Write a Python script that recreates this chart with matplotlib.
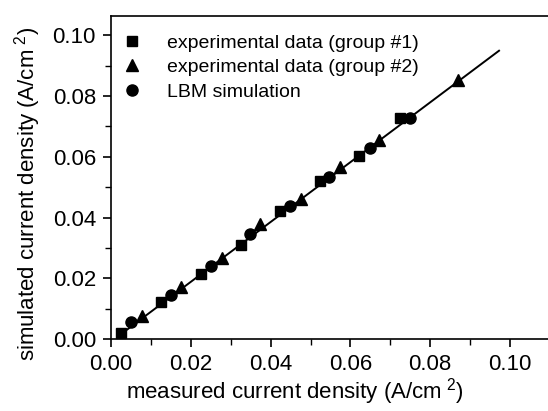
import matplotlib
matplotlib.use("Agg")
import matplotlib.pyplot as plt
from matplotlib.ticker import MultipleLocator, FormatStrFormatter

plt.rcParams["font.family"] = ["Liberation Sans", "DejaVu Sans"]
plt.rcParams["mathtext.fontset"] = "custom"
plt.rcParams["mathtext.rm"] = "Liberation Sans"

# group #1 (squares)
g1_x = [0.0025, 0.0124, 0.0225, 0.0325, 0.0423, 0.0523, 0.0622, 0.0724]
g1_y = [0.0020, 0.0121, 0.0215, 0.0311, 0.0422, 0.0522, 0.0604, 0.0728]
# group #2 (triangles)
g2_x = [0.0076, 0.0176, 0.0277, 0.0374, 0.0475, 0.0573, 0.0673, 0.0870]
g2_y = [0.0077, 0.0171, 0.0268, 0.0379, 0.0461, 0.0568, 0.0657, 0.0853]
# LBM simulation (circles)
lbm_x = [0.0049, 0.0149, 0.0250, 0.0349, 0.0448, 0.0546, 0.0648, 0.0749]
lbm_y = [0.0055, 0.0146, 0.0241, 0.0345, 0.0438, 0.0535, 0.0629, 0.0728]

# fit line
fit_x = [0.0025, 0.0973]
fit_slope = 0.984
fit_icpt = -0.0008

fig = plt.figure(figsize=(5.48, 4.11), dpi=100)
ax = fig.add_axes([0.203, 0.175, 0.80, 0.787])

ax.plot(fit_x, [fit_slope * v + fit_icpt for v in fit_x], color="black", lw=1.4, zorder=1)
ax.plot(g1_x, g1_y, "s", color="black", ms=7, label="experimental data (group #1)", zorder=2)
ax.plot(g2_x, g2_y, "^", color="black", ms=9, label="experimental data (group #2)", zorder=2)
ax.plot(lbm_x, lbm_y, "o", color="black", ms=8, label="LBM simulation", zorder=2)

ax.set_xlim(0, 0.11)
ax.set_ylim(0, 0.1065)
ax.xaxis.set_major_locator(MultipleLocator(0.02))
ax.xaxis.set_minor_locator(MultipleLocator(0.01))
ax.yaxis.set_major_locator(MultipleLocator(0.02))
ax.yaxis.set_minor_locator(MultipleLocator(0.01))
ax.xaxis.set_major_formatter(FormatStrFormatter("%.2f"))
ax.yaxis.set_major_formatter(FormatStrFormatter("%.2f"))

for s in ax.spines.values():
    s.set_linewidth(1.2)
ax.spines["right"].set_visible(False)
ax.tick_params(which="major", direction="out", length=6, width=1.2, labelsize=16, pad=5)
ax.tick_params(which="minor", direction="out", length=4, width=1.0)
ax.tick_params(top=False, right=False, which="both")

ax.set_xlabel("measured current density (A/cm$^{\\ 2}$)", fontsize=16)
ax.set_ylabel("simulated current density (A/cm$^{\\ 2}$)", fontsize=16)
ax.xaxis.set_label_coords(0.42, -0.115)
ax.yaxis.set_label_coords(-0.155, 0.45)

ax.legend(loc="upper left", bbox_to_anchor=(-0.01, 0.985), frameon=False, fontsize=14,
          handlelength=1.2, handletextpad=1.2, labelspacing=0.36, borderaxespad=0.3)

fig.savefig("out.png", dpi=100)
